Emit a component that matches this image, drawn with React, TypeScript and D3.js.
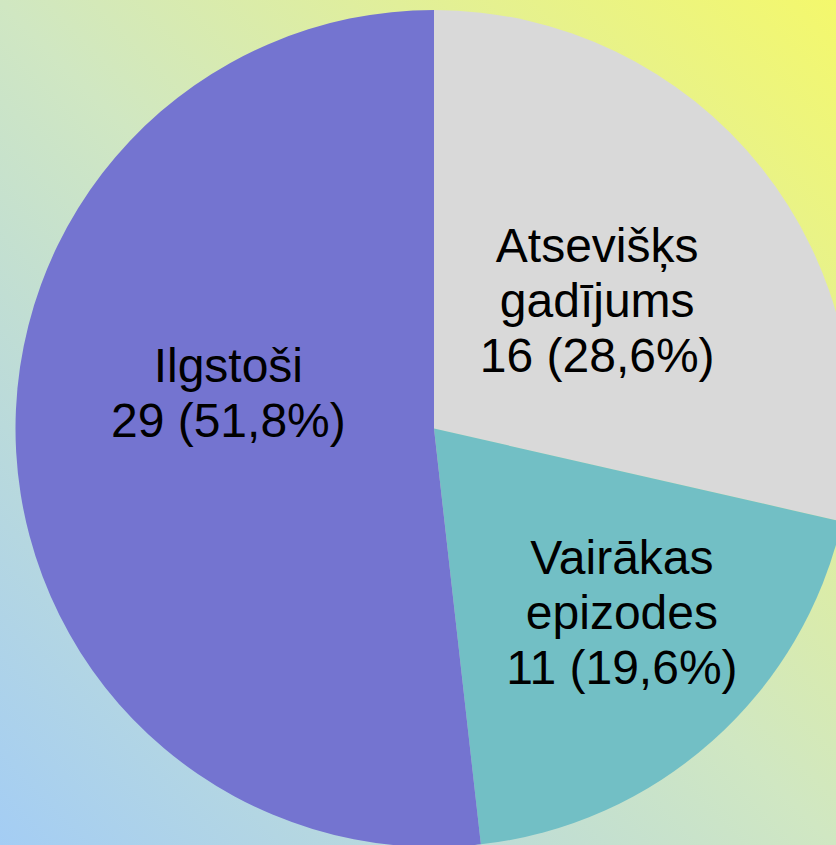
import React, { useEffect, useRef } from 'react';
import * as d3 from 'd3';

const categories = ['Atsevišķs gadījums', 'Vairākas epizodes', 'Ilgstoši'];
const values = [16, 11, 29];
const percents = ['28,6%', '19,6%', '51,8%'];
const labelLines = [['Atsevišķs', 'gadījums'], ['Vairākas', 'epizodes'], ['Ilgstoši']];
const colors = ['#d9d9d9', '#72bfc5', '#7474d0'];

const App = () => {
  const svgRef = useRef<SVGSVGElement>(null);

  useEffect(() => {
    document.body.style.margin = '0';
    const width = 836;
    const height = 845;
    const cx = 434;
    const cy = 428.5;
    const radius = 418.5;
    const fontSize = 48;
    const lineH = 55;

    const svg = d3.select(svgRef.current);
    svg.selectAll('*').remove();
    svg.attr('width', width).attr('height', height);

    const defs = svg.append('defs');
    const grad = defs.append('linearGradient')
      .attr('id', 'bg')
      .attr('x1', 0).attr('y1', 1).attr('x2', 1).attr('y2', 0);
    grad.append('stop').attr('offset', '0%').attr('stop-color', '#a4cdf4');
    grad.append('stop').attr('offset', '50%').attr('stop-color', '#d0e7c2');
    grad.append('stop').attr('offset', '100%').attr('stop-color', '#f4f86c');

    svg.append('rect')
      .attr('width', width)
      .attr('height', height)
      .attr('fill', 'url(#bg)');

    const pie = d3.pie<number>().sort(null).value(d => d);
    const arcs = pie(values);

    const arc = d3.arc<d3.PieArcDatum<number>>()
      .innerRadius(0)
      .outerRadius(radius);

    const labelArc = d3.arc<d3.PieArcDatum<number>>()
      .innerRadius(210)
      .outerRadius(210);

    const g = svg.append('g').attr('transform', `translate(${cx},${cy})`);

    g.selectAll('path')
      .data(arcs)
      .join('path')
      .attr('d', arc)
      .attr('fill', (d, i) => colors[i]);

    // label nudges (best-fit placement in original)
    const nudge = [[-1, 2], [48, 27], [4, -48]];

    arcs.forEach((d, i) => {
      const [x0, y0] = labelArc.centroid(d);
      const x = x0 + nudge[i][0];
      const y = y0 + nudge[i][1];
      const lines = [...labelLines[i], `${values[i]} (${percents[i]})`];
      const first = y - ((lines.length - 1) * lineH) / 2 + 17;
      const t = g.append('text')
        .attr('text-anchor', 'middle')
        .attr('font-family', '"Liberation Sans", Arial, sans-serif')
        .attr('font-size', fontSize)
        .attr('fill', '#000');
      lines.forEach((ln, j) => {
        t.append('tspan')
          .attr('x', x)
          .attr('y', first + j * lineH)
          .text(ln);
      });
    });
  }, []);

  return (
    <div>
      <svg ref={svgRef} style={{ display: 'block' }} aria-label={categories.join(', ')}></svg>
    </div>
  );
};

export default App;
